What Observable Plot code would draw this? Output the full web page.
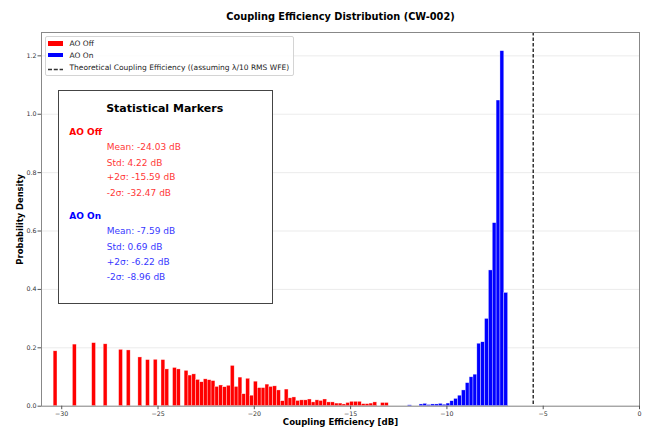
<!DOCTYPE html>
<html>
<head>
<meta charset="utf-8">
<script src="https://cdn.jsdelivr.net/npm/d3@7"></script>
<script src="https://cdn.jsdelivr.net/npm/@observablehq/plot@0.6"></script>
<style>
  body { margin: 0; background: white; font-family: "DejaVu Sans", sans-serif; }
  #wrap { position: relative; width: 649px; height: 430px; }
  .abs { position: absolute; white-space: nowrap; }
  .mid { transform: translateY(-50%); }
</style>
</head>
<body>
<div id="wrap"></div>
<script>
const title = "Coupling Efficiency Distribution (CW-002)";
const xLabel = "Coupling Efficiency [dB]";
const yLabel = "Probability Density";
const xTicks = [-30, -25, -20, -15, -10, -5, 0];
const yTicks = [0, 0.2, 0.4, 0.6, 0.8, 1.0, 1.2];
const binWidth = 0.2;
const theoretical = -5.52;

const offCenters = [-30.32, -29.32, -28.32, -27.72, -26.92, -26.52, -25.92, -25.52, -25.12, -24.72, -24.52, -24.12, -23.92, -23.52, -23.32, -23.12, -22.92, -22.72, -22.52, -22.32, -22.12, -21.92, -21.72, -21.52, -21.32, -21.12, -20.92, -20.72, -20.52, -20.32, -20.12, -19.92, -19.72, -19.52, -19.32, -19.12, -18.92, -18.72, -18.52, -18.32, -18.12, -17.92, -17.72, -17.52, -17.32, -17.12, -16.92, -16.72, -16.52, -16.32, -16.12, -15.92, -15.72, -15.52, -15.32, -15.12, -14.92, -14.72, -14.52, -14.32, -14.12, -13.92, -13.72, -13.32, -13.12];
const offDensity = [0.188, 0.211, 0.216, 0.212, 0.193, 0.191, 0.167, 0.158, 0.159, 0.158, 0.126, 0.131, 0.126, 0.121, 0.105, 0.109, 0.090, 0.082, 0.092, 0.089, 0.086, 0.066, 0.071, 0.065, 0.070, 0.138, 0.066, 0.098, 0.041, 0.094, 0.036, 0.084, 0.062, 0.062, 0.074, 0.066, 0.068, 0.054, 0.017, 0.057, 0.027, 0.030, 0.018, 0.020, 0.020, 0.023, 0.013, 0.020, 0.018, 0.023, 0.013, 0.013, 0.009, 0.009, 0.006, 0.011, 0.015, 0.015, 0.015, 0.007, 0.007, 0.009, 0.013, 0.011, 0.011];

const onCenters = [-11.92, -11.32, -11.12, -10.92, -10.72, -10.52, -10.32, -10.12, -9.92, -9.72, -9.52, -9.32, -9.12, -8.92, -8.72, -8.52, -8.32, -8.12, -7.92, -7.72, -7.52, -7.32, -7.12, -6.92];
const onDensity = [0.003, 0.006, 0.008, 0.004, 0.006, 0.006, 0.008, 0.005, 0.009, 0.017, 0.025, 0.036, 0.054, 0.079, 0.099, 0.108, 0.214, 0.219, 0.299, 0.465, 0.627, 1.047, 1.216, 0.388];

const seriesNames = ["AO Off", "AO On"];
const seriesColors = ["#ff0000", "#0000ff"];
const legendDash = "Theoretical Coupling Efficiency ((assuming λ/10 RMS WFE)";
const statsTitle = "Statistical Markers";
const offStats = ["Mean: -24.03 dB", "Std: 4.22 dB", "+2σ: -15.59 dB", "-2σ: -32.47 dB"];
const onStats = ["Mean: -7.59 dB", "Std: 0.69 dB", "+2σ: -6.22 dB", "-2σ: -8.96 dB"];

const offData = offCenters.map((c, i) => ({c, d: offDensity[i]}));
const onData = onCenters.map((c, i) => ({c, d: onDensity[i]}));

const fmtX = d3.format("");
const chart = Plot.plot({
  width: 649,
  height: 430,
  marginLeft: 41,
  marginRight: 10,
  marginTop: 32,
  marginBottom: 24.3,
  style: {fontFamily: "DejaVu Sans", fontSize: "6.3px", color: "#333", background: "white"},
  x: {domain: [-31.05, 0]},
  y: {domain: [0, 1.28]},
  marks: [
    Plot.gridY(yTicks, {stroke: "#e6e6e6", strokeOpacity: 1, strokeWidth: 0.8}),
    Plot.rectY(offData, {x1: d => d.c - binWidth / 2, x2: d => d.c + binWidth / 2, y: "d", fill: seriesColors[0], stroke: "white", strokeWidth: 0.5, strokeOpacity: 0.7}),
    Plot.rectY(onData, {x1: d => d.c - binWidth / 2, x2: d => d.c + binWidth / 2, y: "d", fill: seriesColors[1], stroke: "white", strokeWidth: 0.5, strokeOpacity: 0.7}),
    Plot.ruleX([theoretical], {stroke: "black", strokeDasharray: "3.5,2", strokeWidth: 1.2}),
    Plot.frame({stroke: "#888", strokeWidth: 1}),
    Plot.axisX(xTicks, {tickFormat: fmtX, tickSize: 3.5, tickPadding: 2, label: null, stroke: "#555"}),
    Plot.axisY(yTicks, {tickFormat: d3.format(".1f"), tickSize: 3.5, tickPadding: 1.5, label: null, stroke: "#555"}),
    Plot.text([xLabel], {text: d => d, frameAnchor: "bottom", textAnchor: "middle", lineAnchor: "middle", dy: 16.5, fontWeight: "bold", fontSize: 8.6, fill: "black"}),
    Plot.text([yLabel], {text: d => d, frameAnchor: "left", textAnchor: "middle", lineAnchor: "middle", dx: -21, rotate: -90, fontWeight: "bold", fontSize: 8.4, fill: "black"}),
    Plot.text([title], {text: d => d, frameAnchor: "top", textAnchor: "middle", lineAnchor: "middle", dy: -16, fontWeight: "bold", fontSize: 9.8, fill: "black"})
  ]
});
const wrap = document.getElementById("wrap");
wrap.appendChild(chart);

function add(html, style, cls = "abs") {
  const el = document.createElement("div");
  el.className = cls;
  el.innerHTML = html;
  Object.assign(el.style, style);
  wrap.appendChild(el);
  return el;
}

// Legend
add("", {left: "44.5px", top: "35.5px", width: "249.5px", height: "40.5px", border: "1px solid #d4d4d4", borderRadius: "2px", background: "rgba(255,255,255,0.85)", boxSizing: "border-box"});
add("", {left: "48.3px", top: "41px", width: "15px", height: "4.5px", background: seriesColors[0]});
add("", {left: "48.3px", top: "52.5px", width: "15px", height: "4.5px", background: seriesColors[1]});
add('<svg width="16" height="3"><line x1="0" y1="1.5" x2="15" y2="1.5" stroke="#333" stroke-width="1.3" stroke-dasharray="4,1.8"/></svg>', {left: "48.3px", top: "65.8px", lineHeight: "0"});
add(seriesNames[0], {left: "69.5px", top: "43.3px", fontSize: "7.5px", color: "#222"}, "abs mid");
add(seriesNames[1], {left: "69.5px", top: "55px", fontSize: "7.5px", color: "#222"}, "abs mid");
add(legendDash, {left: "69.5px", top: "67.3px", fontSize: "7.5px", color: "#222"}, "abs mid");

// Stats box
add("", {left: "57.5px", top: "90px", width: "215.5px", height: "213.5px", border: "1.3px solid #444", background: "white", boxSizing: "border-box"});
add(statsTitle, {left: "164.7px", top: "107.7px", fontSize: "11px", fontWeight: "bold", color: "black", transform: "translate(-50%,-50%)"});
add(seriesNames[0], {left: "69.3px", top: "131.7px", fontSize: "9px", fontWeight: "bold", color: seriesColors[0]}, "abs mid");
const offY = [147.3, 162.7, 177.3, 192.7];
offStats.forEach((s, i) => add(s, {left: "106.7px", top: offY[i] + "px", fontSize: "9px", color: seriesColors[0], opacity: 0.8}, "abs mid"));
add(seriesNames[1], {left: "69.3px", top: "215.7px", fontSize: "9px", fontWeight: "bold", color: seriesColors[1]}, "abs mid");
const onY = [231, 247, 261.7, 277.3];
onStats.forEach((s, i) => add(s, {left: "106.7px", top: onY[i] + "px", fontSize: "9px", color: seriesColors[1], opacity: 0.8}, "abs mid"));
</script>
</body>
</html>
